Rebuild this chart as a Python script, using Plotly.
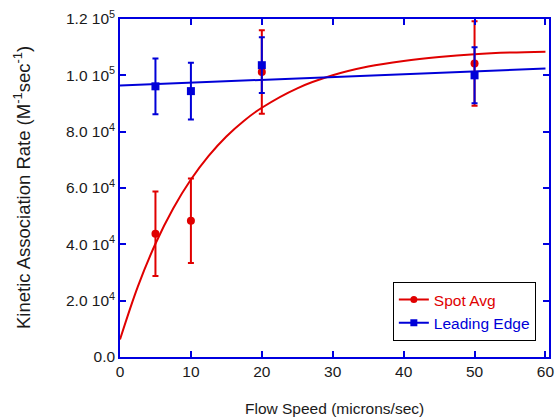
import plotly.graph_objects as go

# ---- data ----
speed = [5, 10, 20, 50]
spot_avg = [43800, 48400, 101200, 104200]
spot_err = [15000, 15000, 14800, 15000]
leading_edge = [96100, 94400, 103600, 100000]
leading_err = [9900, 10100, 9900, 9950]

fit_x = [0, 2.5, 5, 7.5, 10, 12.5, 15, 17.5, 20, 25, 30, 35, 40, 45, 50, 55, 60]
spot_fit = [6200, 24900, 40200, 52700, 63000, 71400, 78300, 83900, 88500,
            95400, 100000, 103100, 105100, 106500, 107500, 108100, 108400]
lead_fit_x = [0, 60]
lead_fit = [96400, 102400]

y_ticks = [0, 20000, 40000, 60000, 80000, 100000, 120000]
y_ticklabels = ["0.0", "2.0 10<sup>4</sup>", "4.0 10<sup>4</sup>", "6.0 10<sup>4</sup>",
                "8.0 10<sup>4</sup>", "1.0 10<sup>5</sup>", "1.2 10<sup>5</sup>"]
x_ticks = [0, 10, 20, 30, 40, 50, 60]

RED = "#E00000"
BLUE = "#0000D8"
AX = "#0000E0"
FONT = "Liberation Sans, Arial, sans-serif"
FS = 15.5

fig = go.Figure()

fig.add_trace(go.Scatter(x=fit_x, y=spot_fit, mode="lines", line=dict(color=RED, width=2, shape="spline"),
                         showlegend=False, hoverinfo="skip"))
fig.add_trace(go.Scatter(x=lead_fit_x, y=lead_fit, mode="lines", line=dict(color=BLUE, width=2),
                         showlegend=False, hoverinfo="skip"))

fig.add_trace(go.Scatter(x=speed, y=spot_avg, mode="markers",
                         marker=dict(color=RED, size=8, symbol="circle"),
                         error_y=dict(type="data", array=spot_err, color=RED, thickness=2, width=3),
                         showlegend=False))
fig.add_trace(go.Scatter(x=speed, y=leading_edge, mode="markers",
                         marker=dict(color=BLUE, size=8, symbol="square"),
                         error_y=dict(type="data", array=leading_err, color=BLUE, thickness=2, width=3),
                         showlegend=False))

# legend entries
fig.add_trace(go.Scatter(x=[None], y=[None], mode="lines+markers",
                         line=dict(color=RED, width=2), marker=dict(color=RED, size=7, symbol="circle"),
                         name=f"<span style='color:{RED}'>Spot Avg</span>"))
fig.add_trace(go.Scatter(x=[None], y=[None], mode="lines+markers",
                         line=dict(color=BLUE, width=2), marker=dict(color=BLUE, size=7, symbol="square"),
                         name=f"<span style='color:{BLUE}'>Leading Edge</span>"))

axis_common = dict(showline=True, linecolor=AX, linewidth=1.5, mirror="ticks", ticks="inside",
                   ticklen=6, tickcolor=AX, tickwidth=1.5, showgrid=False, zeroline=False,
                   ticklabeloverflow="allow",
                   tickfont=dict(family=FONT, size=FS, color="#1a1a1a"))

fig.update_xaxes(range=[0, 60.5], tickvals=x_ticks, ticktext=[str(v) for v in x_ticks], **axis_common)
fig.update_yaxes(range=[0, 120000], tickvals=y_ticks, ticktext=y_ticklabels, **axis_common)

fig.update_layout(
    width=560, height=417,
    margin=dict(l=120, r=6, t=19, b=60),
    paper_bgcolor="white", plot_bgcolor="white",
    font=dict(family=FONT, size=FS, color="#1a1a1a"),
    legend=dict(x=0.636, y=0.222, xanchor="left", yanchor="top",
                bordercolor="black", borderwidth=1, bgcolor="white",
                font=dict(family=FONT, size=FS), tracegroupgap=0,
                itemwidth=30),
    annotations=[
        dict(text="Flow Speed (microns/sec)", x=0.5, y=0, xref="paper", yref="paper",
             xanchor="center", yanchor="middle", yshift=-51, showarrow=False,
             font=dict(family=FONT, size=FS, color="#1a1a1a")),
        dict(text="Kinetic Association Rate (M<sup>-1</sup>sec<sup>-1</sup>)", x=0, y=0.5,
             xref="paper", yref="paper", xanchor="center", yanchor="middle", xshift=-98,
             textangle=-90, showarrow=False,
             font=dict(family=FONT, size=18.5, color="#1a1a1a")),
    ],
)

# remove the default 8px page margin so the figure fills the window exactly
fig.write_html("out.html", config={"displayModeBar": False},
               post_script="document.body.style.margin='0';document.body.style.overflow='hidden';")
